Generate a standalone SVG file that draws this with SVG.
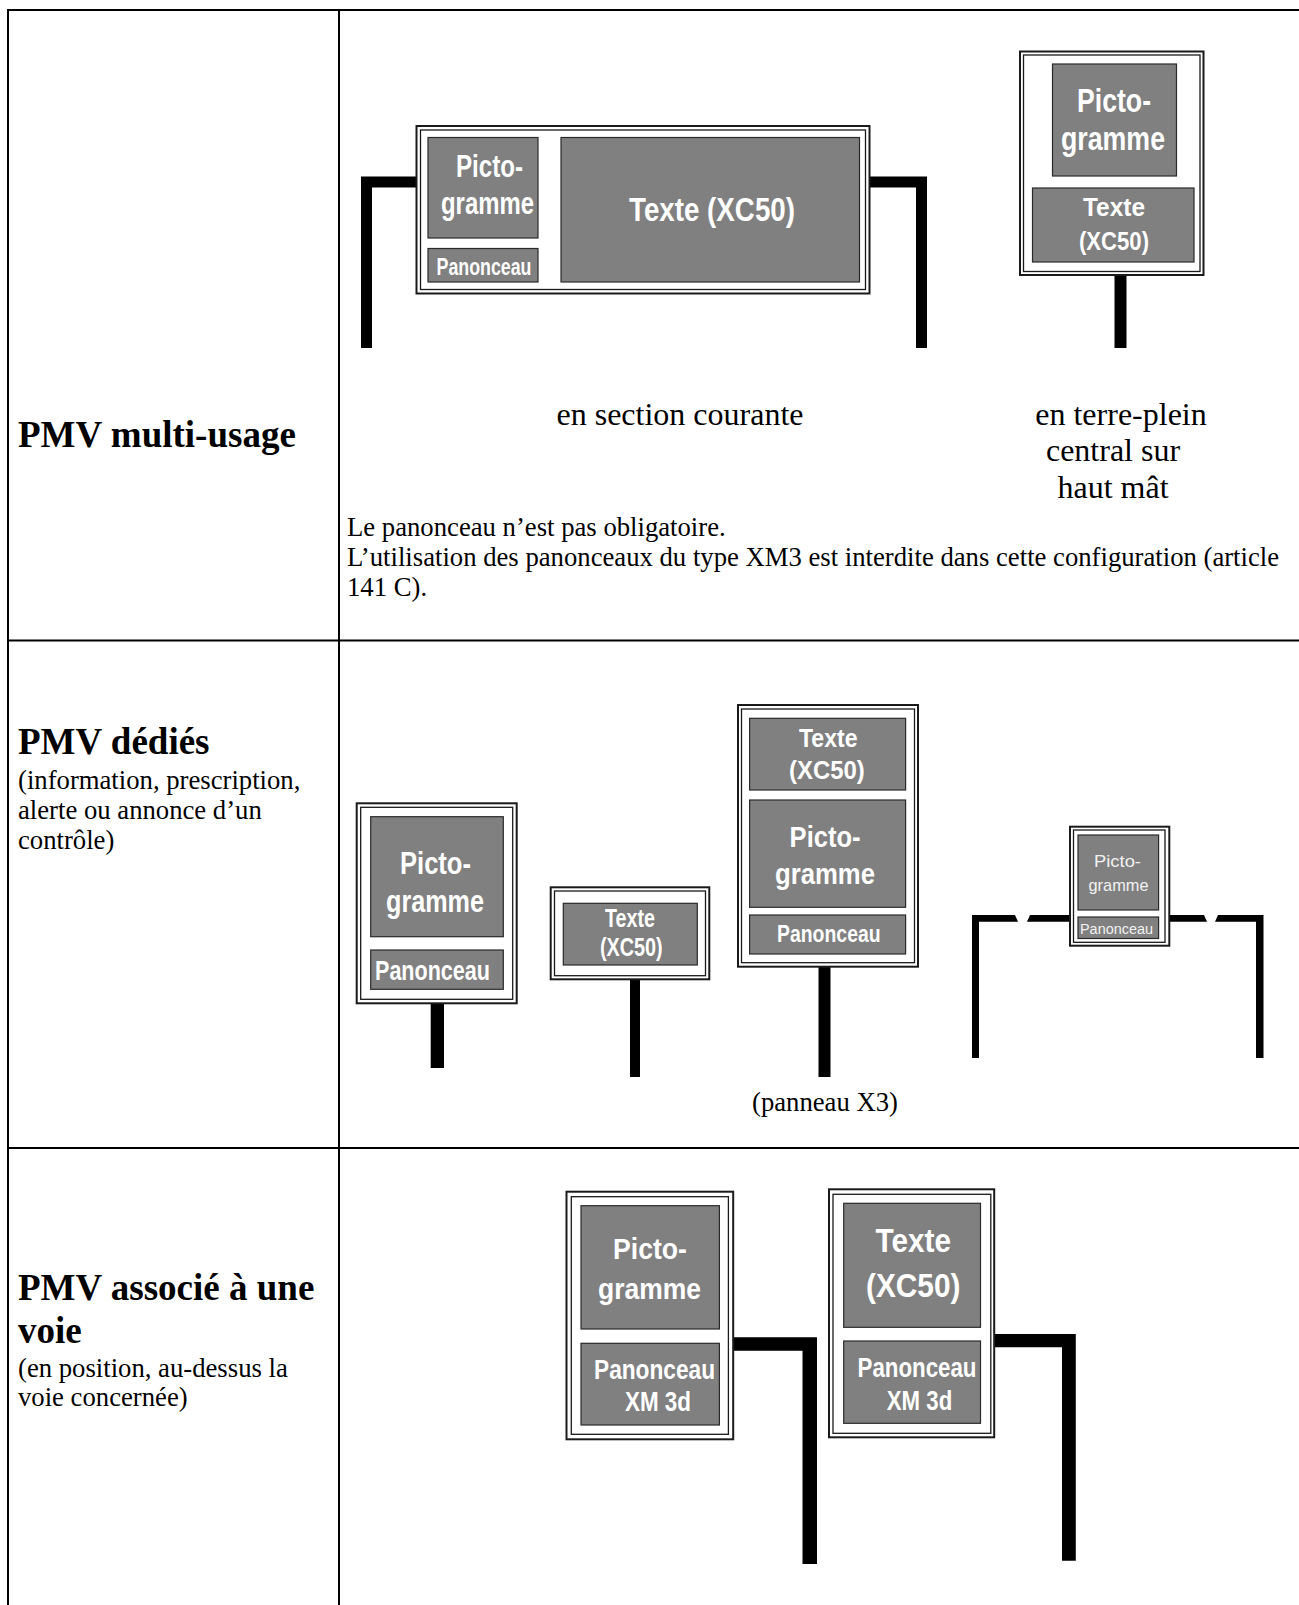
<svg xmlns="http://www.w3.org/2000/svg" width="1299" height="1605" viewBox="0 0 1299 1605">
<style>
.ln{stroke:#000;stroke-width:2;fill:none}
.fo{fill:#fff;stroke:#1a1a1a;stroke-width:2}
.fi{fill:none;stroke:#1a1a1a;stroke-width:1.3}
.box{fill:#808080;stroke:#2a2a2a;stroke-width:1.2}
.post{fill:#000}
.st{font-family:"Liberation Sans",Arial,sans-serif;font-weight:bold;fill:#fff}
.sl{font-family:"Liberation Sans",Arial,sans-serif;fill:#f2f2f2}
.ti{font-family:"Liberation Serif","Times New Roman",serif;font-weight:bold;font-size:37px;fill:#000}
.tx{font-family:"Liberation Serif","Times New Roman",serif;font-size:26.7px;fill:#000}
.lb{font-family:"Liberation Serif","Times New Roman",serif;font-size:32px;fill:#000}
</style>
<rect x="0" y="0" width="1299" height="1605" fill="#fff"/>
<g id="table">
<line class="ln" x1="8" y1="10" x2="1299" y2="10"/>
<line class="ln" x1="8" y1="9" x2="8" y2="1605"/>
<line class="ln" x1="339" y1="10" x2="339" y2="1605"/>
<line class="ln" x1="8" y1="640.5" x2="1299" y2="640.5"/>
<line class="ln" x1="8" y1="1148" x2="1299" y2="1148"/>
</g>
<g id="labels">
<text class="ti" x="18" y="447">PMV multi-usage</text>
<text class="lb" x="680" y="425" text-anchor="middle">en section courante</text>
<text class="lb" x="1121" y="425" text-anchor="middle">en terre-plein</text>
<text class="lb" x="1113" y="461" text-anchor="middle">central sur</text>
<text class="lb" x="1113" y="498" text-anchor="middle">haut mât</text>
<text class="tx" x="347" y="536">Le panonceau n’est pas obligatoire.</text>
<text class="tx" x="347" y="566">L’utilisation des panonceaux du type XM3 est interdite dans cette configuration (article</text>
<text class="tx" x="347" y="596">141 C).</text>
<text class="ti" x="18" y="754">PMV dédiés</text>
<text class="tx" x="18" y="788.5">(information, prescription,</text>
<text class="tx" x="18" y="818.5">alerte ou annonce d’un</text>
<text class="tx" x="18" y="848.5">contrôle)</text>
<text class="tx" x="825" y="1111" text-anchor="middle">(panneau X3)</text>
<text class="ti" x="18" y="1300">PMV associé à une</text>
<text class="ti" x="18" y="1343">voie</text>
<text class="tx" x="18" y="1377">(en position, au-dessus la</text>
<text class="tx" x="18" y="1406">voie concernée)</text>
</g>
<g id="connectors">
<polygon class="post" points="361,176.5 416.5,176.5 416.5,187.5 372,187.5 372,348 361,348"/>
<polygon class="post" points="869.5,176.5 927,176.5 927,348 916,348 916,187.5 869.5,187.5"/>
<rect class="post" x="1114.5" y="275" width="12" height="73"/>
<rect class="post" x="430.7" y="1003" width="13.3" height="65"/>
<rect class="post" x="630" y="979" width="10" height="98"/>
<rect class="post" x="818.5" y="966.7" width="12" height="110.3"/>
<polygon class="post" points="972,915 1015,915 1018,921.7 979,921.7 979,1058 972,1058"/>
<polygon class="post" points="1030,915 1070,915 1070,921.7 1027,921.7"/>
<polygon class="post" points="1169,915 1204,915 1207,921.7 1169,921.7"/>
<polygon class="post" points="1218,915 1263.5,915 1263.5,1058 1256,1058 1256,921.7 1215,921.7"/>
<polygon class="post" points="733.2,1337.3 817,1337.3 817,1564 802.5,1564 802.5,1350.7 733.2,1350.7"/>
<polygon class="post" points="994.2,1334 1075.8,1334 1075.8,1560.7 1062,1560.7 1062,1347.3 994.2,1347.3"/>
</g>
<g id="sign-section-courante">
<rect class="fo" x="416.5" y="126" width="453" height="167.5"/>
<rect class="fi" x="420.5" y="130" width="445" height="159.5"/>
<rect class="box" x="428" y="137.5" width="110" height="100.5"/>
<rect class="box" x="428" y="248.5" width="110" height="33.5"/>
<rect class="box" x="561" y="137.5" width="298.5" height="144.5"/>
<text class="st" x="456" y="177" font-size="31" textLength="67" lengthAdjust="spacingAndGlyphs">Picto-</text>
<text class="st" x="441" y="214" font-size="31" textLength="93" lengthAdjust="spacingAndGlyphs">gramme</text>
<text class="st" x="436.5" y="275" font-size="23" textLength="95" lengthAdjust="spacingAndGlyphs">Panonceau</text>
<text class="st" x="629" y="220.7" font-size="32.5" textLength="166" lengthAdjust="spacingAndGlyphs">Texte (XC50)</text>
</g>
<g id="sign-terre-plein">
<rect class="fo" x="1020" y="51.5" width="183.5" height="223.5"/>
<rect class="fi" x="1023.5" y="55" width="176.5" height="216.5"/>
<rect class="box" x="1052.5" y="64" width="124" height="112"/>
<rect class="box" x="1032.5" y="188" width="161.5" height="74"/>
<text class="st" x="1077" y="112" font-size="33" textLength="74" lengthAdjust="spacingAndGlyphs">Picto-</text>
<text class="st" x="1061" y="150" font-size="33" textLength="104" lengthAdjust="spacingAndGlyphs">gramme</text>
<text class="st" x="1083" y="216" font-size="26.5" textLength="62" lengthAdjust="spacingAndGlyphs">Texte</text>
<text class="st" x="1079" y="249.5" font-size="26.5" textLength="70" lengthAdjust="spacingAndGlyphs">(XC50)</text>
</g>
<g id="sign-dedie-picto">
<rect class="fo" x="356.7" y="803.3" width="160" height="200"/>
<rect class="fi" x="360.7" y="807.3" width="152" height="192"/>
<rect class="box" x="370.7" y="816.7" width="132.6" height="120"/>
<rect class="box" x="370.7" y="950" width="132.6" height="39.3"/>
<text class="st" x="400" y="874.3" font-size="31.7" textLength="71" lengthAdjust="spacingAndGlyphs">Picto-</text>
<text class="st" x="386" y="911.5" font-size="31.7" textLength="98" lengthAdjust="spacingAndGlyphs">gramme</text>
<text class="st" x="375" y="980" font-size="28" textLength="115" lengthAdjust="spacingAndGlyphs">Panonceau</text>
</g>
<g id="sign-dedie-texte">
<rect class="fo" x="550.7" y="887.3" width="158.6" height="92" stroke-width="3"/>
<rect class="fi" x="554.5" y="891" width="151" height="84.7"/>
<rect class="box" x="563.3" y="903.3" width="134" height="61.7"/>
<text class="st" x="605" y="926.7" font-size="25.6" textLength="50" lengthAdjust="spacingAndGlyphs">Texte</text>
<text class="st" x="600" y="956" font-size="25.6" textLength="62.7" lengthAdjust="spacingAndGlyphs">(XC50)</text>
</g>
<g id="sign-x3">
<rect class="fo" x="738" y="705" width="180" height="261.7"/>
<rect class="fi" x="741.5" y="709" width="173" height="253.7"/>
<rect class="box" x="749.6" y="718.3" width="156" height="71.7"/>
<rect class="box" x="749.6" y="800" width="156" height="107.3"/>
<rect class="box" x="749.6" y="915" width="156" height="39"/>
<text class="st" x="799" y="746.7" font-size="25.5" textLength="58.5" lengthAdjust="spacingAndGlyphs">Texte</text>
<text class="st" x="789" y="779" font-size="25.5" textLength="75.7" lengthAdjust="spacingAndGlyphs">(XC50)</text>
<text class="st" x="789.6" y="846.7" font-size="29" textLength="71" lengthAdjust="spacingAndGlyphs">Picto-</text>
<text class="st" x="775" y="884" font-size="29" textLength="100" lengthAdjust="spacingAndGlyphs">gramme</text>
<text class="st" x="777" y="941.7" font-size="23.3" textLength="103.6" lengthAdjust="spacingAndGlyphs">Panonceau</text>
</g>
<g id="sign-portique">
<rect class="fo" x="1070" y="826.7" width="99.3" height="119"/>
<rect class="fi" x="1073.5" y="830" width="91.5" height="112.3"/>
<rect class="box" x="1078" y="835" width="80.6" height="75"/>
<rect class="box" x="1078" y="917" width="80.6" height="21.5"/>
<text class="sl" x="1094" y="867" font-size="17" textLength="47" lengthAdjust="spacingAndGlyphs">Picto-</text>
<text class="sl" x="1088.5" y="891" font-size="17" textLength="60" lengthAdjust="spacingAndGlyphs">gramme</text>
<text class="sl" x="1080" y="933.5" font-size="14" textLength="73" lengthAdjust="spacingAndGlyphs">Panonceau</text>
</g>
<g id="sign-voie-picto">
<rect class="fo" x="566.5" y="1191.7" width="166.7" height="247.6"/>
<rect class="fi" x="571.3" y="1196.7" width="157.1" height="237.6"/>
<rect class="box" x="581" y="1205.7" width="138.4" height="123.3"/>
<rect class="box" x="581" y="1343.3" width="138.4" height="81.7"/>
<text class="st" x="613" y="1259" font-size="30.3" textLength="74" lengthAdjust="spacingAndGlyphs">Picto-</text>
<text class="st" x="598" y="1298.5" font-size="30.3" textLength="103" lengthAdjust="spacingAndGlyphs">gramme</text>
<text class="st" x="594" y="1379.3" font-size="27" textLength="121" lengthAdjust="spacingAndGlyphs">Panonceau</text>
<text class="st" x="625" y="1411" font-size="27" textLength="66" lengthAdjust="spacingAndGlyphs">XM 3d</text>
</g>
<g id="sign-voie-texte">
<rect class="fo" x="829" y="1189.3" width="165.2" height="248" stroke-width="2.5"/>
<rect class="fi" x="833" y="1194.3" width="157.8" height="239"/>
<rect class="box" x="843.7" y="1203.3" width="136.8" height="124"/>
<rect class="box" x="843.7" y="1341" width="136.8" height="82.3"/>
<text class="st" x="875.4" y="1251.7" font-size="32.6" textLength="75.7" lengthAdjust="spacingAndGlyphs">Texte</text>
<text class="st" x="866" y="1296.7" font-size="32.6" textLength="94.5" lengthAdjust="spacingAndGlyphs">(XC50)</text>
<text class="st" x="857.5" y="1376.7" font-size="27" textLength="119" lengthAdjust="spacingAndGlyphs">Panonceau</text>
<text class="st" x="886.8" y="1410" font-size="27" textLength="65.4" lengthAdjust="spacingAndGlyphs">XM 3d</text>
</g>
</svg>
